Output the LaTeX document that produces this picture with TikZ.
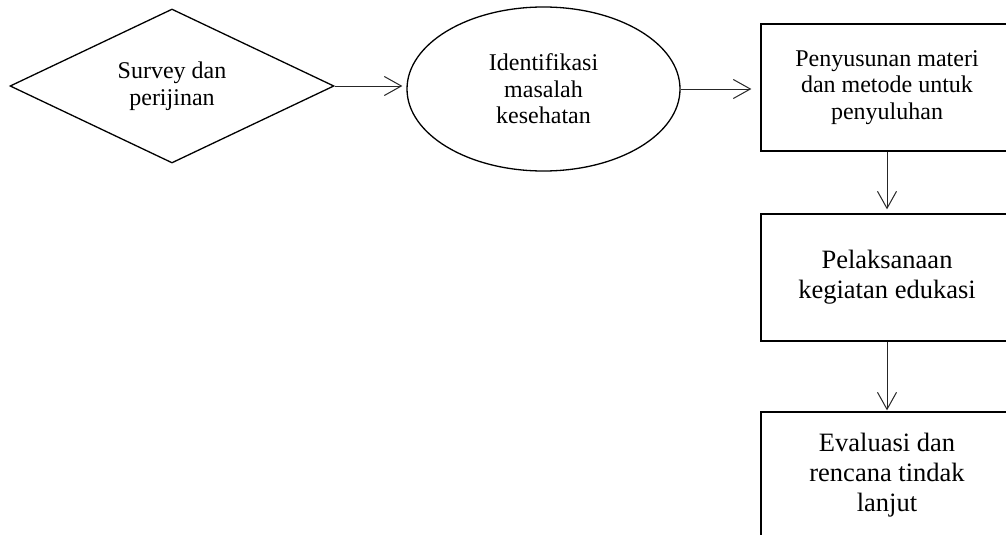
\documentclass[tikz,border=0pt]{standalone}
\usepackage{fontspec}
\setmainfont{Liberation Serif}
\usetikzlibrary{shapes.geometric,arrows.meta}
\tikzset{
  shapeline/.style={draw=black, line width=1.3pt, inner sep=0pt, align=center},
  smalltxt/.style={font=\fontsize{24}{26.5}\selectfont},
  bigtxt/.style={font=\fontsize{26.5}{30}\selectfont},
  stepbox/.style={shapeline, rectangle, minimum width=252pt, minimum height=127pt},
  arr/.style={draw=black!85, line width=1pt, -{Straight Barb[length=17pt,width=19pt,line width=1pt]}}
}
\begin{document}
\begin{tikzpicture}[x=1pt,y=-1pt]
\useasboundingbox (0,0) rectangle (1006,535);
\fill[white] (0,0) rectangle (1006,535);
\clip (0,0) rectangle (1006,535);
\node[shapeline, smalltxt, diamond, aspect=2.1, minimum width=324pt, minimum height=154pt] (d) at (172,86) {Survey dan\\perijinan};
\node[shapeline, smalltxt, ellipse, minimum width=273pt, minimum height=164pt] (e) at (543.5,89) {Identifikasi\\masalah\\kesehatan};
\node[stepbox, smalltxt] (r1) at (887,87.5) {Penyusunan materi\\dan metode untuk\\penyuluhan};
\node[stepbox, bigtxt] (r2) at (887,277.5) {Pelaksanaan\\kegiatan edukasi};
\node[stepbox, bigtxt] (r3) at (887,475.5) {Evaluasi dan\\rencana tindak\\lanjut};
\draw[arr, shorten >=4pt] (d.east) -- (d.east -| e.west);
\draw[arr, shorten >=9pt] (e.east) -- (e.east -| r1.west);
\draw[arr, shorten >=4pt] (r1.south) -- (r2.north);
\draw[arr, shorten >=1pt] (r2.south) -- (r3.north);
\end{tikzpicture}
\end{document}
